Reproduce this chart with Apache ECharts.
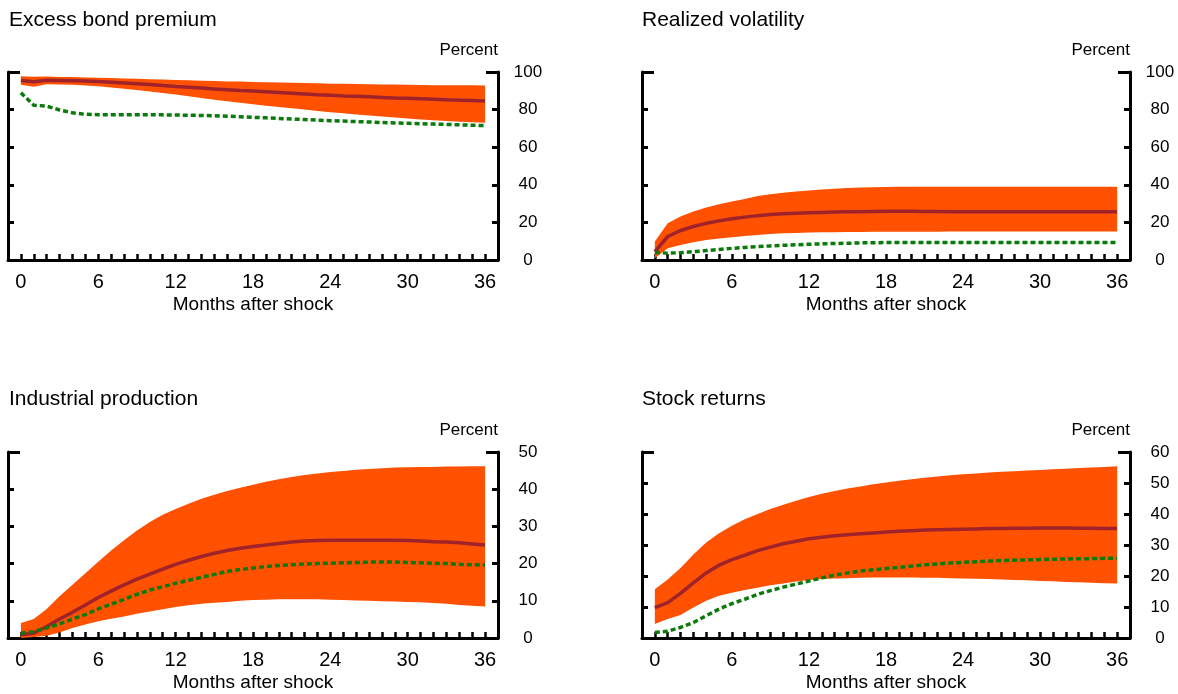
<!DOCTYPE html>
<html>
<head>
<meta charset="utf-8">
<script src="https://cdn.jsdelivr.net/npm/echarts@6/dist/echarts.min.js"></script>
<style>html,body{margin:0;padding:0;background:#fff}#c{width:1178px;height:694px}</style>
</head>
<body>
<div id="c"></div>
<script>
// ---- data ----
const months = [0,1,2,3,4,5,6,7,8,9,10,11,12,13,14,15,16,17,18,19,20,21,22,23,24,25,26,27,28,29,30,31,32,33,34,35,36];
const xTickLabels = [0,6,12,18,24,30,36];

const titles = ["Excess bond premium","Realized volatility","Industrial production","Stock returns"];
const yMax = [100,100,50,60];
const yInterval = [20,20,10,10];

// Excess bond premium
const ebpMedian = [95.5,94.8,95.6,95.5,95.4,95.2,95.0,94.6,94.2,93.8,93.4,92.8,92.3,91.9,91.5,91.0,90.6,90.2,89.9,89.5,89.1,88.7,88.3,87.9,87.6,87.3,87.1,86.8,86.5,86.2,86.0,85.8,85.5,85.2,85.0,84.8,84.6];
const ebpUpper  = [97.8,97.5,97.6,97.4,97.3,97.1,97.0,96.8,96.6,96.4,96.2,96.0,95.8,95.6,95.4,95.2,95.0,94.9,94.7,94.6,94.4,94.3,94.1,94.0,93.8,93.7,93.6,93.5,93.4,93.3,93.2,93.1,93.0,93.0,92.9,92.9,92.8];
const ebpLower  = [93.2,92.2,93.5,93.4,93.2,92.8,92.4,91.8,91.1,90.4,89.6,88.8,88.0,87.1,86.2,85.3,84.5,83.6,82.8,82.1,81.4,80.7,80.0,79.3,78.6,78.0,77.4,76.8,76.3,75.8,75.3,74.8,74.4,74.0,73.6,73.3,73.0];
const ebpAlt    = [89.0,82.3,81.9,79.8,78.3,77.5,77.3,77.3,77.3,77.3,77.3,77.2,77.1,77.0,76.9,76.7,76.5,76.2,75.9,75.6,75.3,75.0,74.7,74.4,74.1,73.9,73.6,73.4,73.1,72.9,72.7,72.5,72.3,72.1,71.9,71.7,71.5];

// Realized volatility
const rvMedian = [4.4,12.5,15.7,17.8,19.5,20.8,21.9,22.8,23.6,24.2,24.6,24.9,25.1,25.3,25.5,25.6,25.7,25.8,25.9,25.9,25.9,25.8,25.8,25.7,25.7,25.6,25.6,25.6,25.6,25.6,25.6,25.6,25.6,25.6,25.6,25.6,25.6];
const rvUpper  = [9.8,19.6,23.1,25.8,27.9,29.7,31.1,32.5,34.0,35.0,35.8,36.5,37.0,37.5,37.9,38.3,38.5,38.7,38.8,38.9,39.0,39.0,39.0,39.0,39.0,39.0,39.0,39.0,39.0,39.0,39.0,39.0,39.0,39.0,39.0,39.0,39.0];
const rvLower  = [0.9,6.2,8.0,9.4,10.6,11.4,12.1,12.7,13.3,13.8,14.2,14.4,14.6,14.7,14.8,14.9,14.9,15.0,15.0,15.0,15.0,15.0,15.0,15.1,15.1,15.1,15.1,15.1,15.1,15.1,15.1,15.1,15.1,15.1,15.1,15.1,15.1];
const rvAlt    = [4.1,3.6,3.9,4.4,5.0,5.6,6.2,6.7,7.1,7.5,7.8,8.1,8.4,8.6,8.8,8.9,9.1,9.2,9.3,9.3,9.3,9.3,9.3,9.3,9.3,9.3,9.3,9.3,9.3,9.3,9.3,9.3,9.3,9.3,9.3,9.3,9.3];

// Industrial production
const ipMedian = [0.9,1.3,3.1,5.1,6.9,8.9,10.9,12.6,14.3,15.8,17.2,18.5,19.8,20.9,21.9,22.8,23.5,24.1,24.6,25.0,25.4,25.8,26.1,26.2,26.3,26.3,26.3,26.3,26.3,26.3,26.2,26.1,25.9,25.8,25.6,25.3,25.0];
const ipUpper  = [4.0,5.1,7.8,11.2,14.3,17.4,20.5,23.5,26.3,28.9,31.2,33.1,34.7,36.1,37.4,38.5,39.5,40.4,41.2,42.0,42.7,43.3,43.8,44.2,44.6,44.9,45.2,45.4,45.6,45.8,45.9,46.0,46.0,46.1,46.1,46.2,46.2];
const ipLower  = [0.0,0.3,0.6,1.5,2.7,3.6,4.5,5.2,5.8,6.5,7.1,7.7,8.3,8.8,9.2,9.5,9.7,10.0,10.2,10.3,10.4,10.4,10.4,10.4,10.3,10.2,10.1,10.0,9.9,9.8,9.7,9.6,9.4,9.2,8.9,8.7,8.5];
const ipAlt    = [1.3,1.7,2.7,3.8,5.1,6.3,7.8,9.1,10.4,11.7,12.9,13.8,14.7,15.5,16.3,17.1,17.9,18.4,18.8,19.2,19.5,19.7,19.9,20.0,20.1,20.2,20.3,20.4,20.4,20.4,20.3,20.2,20.1,20.0,19.8,19.7,19.6];

// Stock returns
const srMedian = [9.8,11.4,14.4,17.8,21.0,23.5,25.3,26.7,28.2,29.3,30.4,31.2,32.0,32.5,33.0,33.3,33.6,33.9,34.2,34.4,34.6,34.8,34.9,35.0,35.1,35.2,35.3,35.3,35.4,35.4,35.5,35.5,35.5,35.4,35.4,35.3,35.3];
const srUpper  = [15.7,18.9,22.6,26.9,30.8,33.8,36.2,38.3,40.0,41.6,43.0,44.3,45.5,46.5,47.4,48.2,48.9,49.6,50.2,50.7,51.2,51.7,52.1,52.5,52.8,53.1,53.4,53.6,53.8,54.0,54.2,54.4,54.6,54.8,55.0,55.2,55.4];
const srLower  = [4.5,6.1,7.4,9.8,12.0,13.6,14.6,15.5,16.2,17.0,17.6,18.2,18.7,19.0,19.2,19.3,19.4,19.5,19.5,19.5,19.5,19.4,19.4,19.3,19.2,19.1,19.0,18.9,18.7,18.6,18.4,18.3,18.1,18.0,17.8,17.7,17.6];
const srAlt    = [1.8,2.2,3.4,5.0,7.2,9.3,11.1,12.5,14.1,15.3,16.4,17.4,18.4,19.4,20.3,21.0,21.6,22.0,22.4,22.8,23.2,23.6,23.9,24.2,24.4,24.6,24.8,25.0,25.1,25.2,25.3,25.4,25.5,25.6,25.6,25.7,25.7];

const medians = [ebpMedian, rvMedian, ipMedian, srMedian];
const uppers  = [ebpUpper, rvUpper, ipUpper, srUpper];
const lowers  = [ebpLower, rvLower, ipLower, srLower];
const alts    = [ebpAlt, rvAlt, ipAlt, srAlt];

// ---- layout / style ----
const FONT = "Liberation Sans, Arial, Helvetica, sans-serif";
const grids = [
  {left: 8,   top: 72,  width: 490, height: 188},
  {left: 642, top: 72,  width: 488, height: 188},
  {left: 8,   top: 452, width: 490, height: 186},
  {left: 642, top: 452, width: 488, height: 186}
];
grids.forEach(g => { g.containLabel = false; g.outerBoundsMode = 'none'; });
const titlePos = [[9,10],[642,10],[9,389],[642,389]];
const BAND = '#FF5100', MED = '#A0222A', ALT = '#0A7A0A';

const option = {
  animation: false,
  backgroundColor: '#fff',
  textStyle: {fontFamily: FONT},
  title: titles.map((t,i)=>({text: t, left: titlePos[i][0], top: titlePos[i][1], padding: 0,
    textStyle:{fontFamily: FONT, fontSize: 21, fontWeight: 'normal', color: '#000'}})),
  grid: grids,
  xAxis: [], yAxis: [], series: []
};

function yAxisBase(i, pos) {
  return {
    type: 'value', gridIndex: i, position: pos, min: 0, max: yMax[i], interval: yInterval[i],
    axisLine: {show: true, onZero: false, lineStyle: {color: '#000', width: 3}},
    axisTick: {show: true, inside: true, length: 6, lineStyle: {color: '#000', width: 3}},
    axisLabel: {show: false},
    splitLine: {show: false}
  };
}

for (let i = 0; i < 4; i++) {
  option.xAxis.push({
    type: 'value', gridIndex: i, min: -1, max: 37, interval: 1,
    name: 'Months after shock', nameLocation: 'middle', nameGap: 35,
    nameTextStyle: {fontFamily: FONT, fontSize: 19, color: '#000'},
    axisLine: {show: true, onZero: false, lineStyle: {color: '#000', width: 3}},
    axisTick: {show: true, inside: true, length: 6, lineStyle: {color: '#000', width: 2.5}},
    axisLabel: {show: true, margin: 12, fontFamily: FONT, fontSize: 20, color: '#000',
      showMinLabel: true, showMaxLabel: true, hideOverlap: false,
      formatter: v => xTickLabels.indexOf(v) >= 0 ? String(v) : ''},
    splitLine: {show: false}
  });
  // right axis with labels (index 4i)
  const r = yAxisBase(i, 'right');
  r.name = 'Percent'; r.nameLocation = 'end'; r.nameGap = 22;
  r.nameTextStyle = {fontFamily: FONT, fontSize: 17, color: '#000', align: 'right', verticalAlign: 'middle'};
  r.axisLabel = {show: true, margin: 30, align: 'center', fontFamily: FONT, fontSize: 17, color: '#000'};
  option.yAxis.push(r);
  // left axis, ticks only
  option.yAxis.push(yAxisBase(i, 'left'));
  // longer corner ticks at the top of both vertical axes
  ['left','right'].forEach(p => {
    const c = yAxisBase(i, p);
    c.interval = yMax[i];
    c.axisLine = {show: false, onZero: false};
    c.axisTick = {show: true, inside: true, length: 12, lineStyle: {color: '#000', width: 3}};
    option.yAxis.push(c);
  });

  const yi = 4*i;
  const lo = lowers[i], hi = uppers[i];
  option.series.push({
    type: 'custom', xAxisIndex: i, yAxisIndex: yi, silent: true, clip: false, z: 1,
    data: months.map((m,k)=>[m, lo[k], hi[k]]),
    encode: {x: 0, y: [1,2]},
    renderItem: function (params, api) {
      if (params.dataIndex !== 0) return null;
      const pts = [];
      for (let k = 0; k < months.length; k++) pts.push(api.coord([months[k], hi[k]]));
      for (let k = months.length - 1; k >= 0; k--) pts.push(api.coord([months[k], lo[k]]));
      return {type: 'polygon', shape: {points: pts}, style: {fill: BAND, stroke: null}};
    }
  });
  option.series.push({
    type: 'line', xAxisIndex: i, yAxisIndex: yi, silent: true, z: 3,
    data: months.map((m,k)=>[m, medians[i][k]]),
    showSymbol: false, smooth: false,
    lineStyle: {color: MED, width: 3.5}
  });
  option.series.push({
    type: 'line', xAxisIndex: i, yAxisIndex: yi, silent: true, z: 4,
    data: months.map((m,k)=>[m, alts[i][k]]),
    showSymbol: false, smooth: false,
    lineStyle: {color: ALT, width: 3.5, type: [5,3], cap: 'butt'}
  });
}

const chart = echarts.init(document.getElementById('c'), null, {renderer: 'canvas'});
chart.setOption(option);
</script>
</body>
</html>
